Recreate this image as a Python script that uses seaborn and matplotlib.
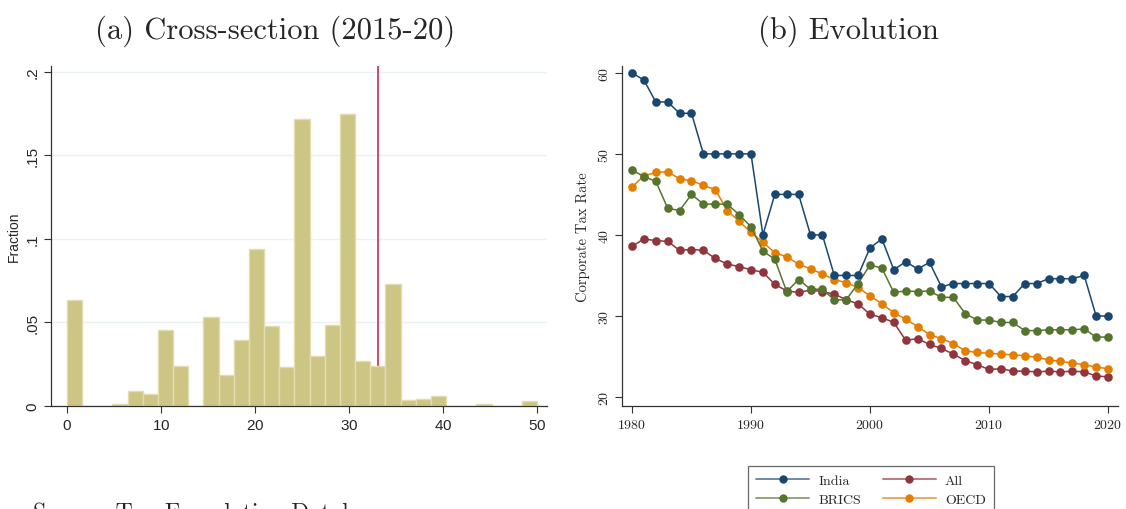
import numpy as np
import pandas as pd
import matplotlib
matplotlib.use('Agg')
import matplotlib.pyplot as plt
import seaborn as sns
from matplotlib.lines import Line2D

# ---- panel (a): histogram of statutory rates, 2015-20 (fraction per bin) ----
n_bins = 31          # bins of width ~1.61 over 0-50
bin_range = (0, 50)
fractions = [0.0637, 0, 0, 0.0014, 0.0092, 0.0072, 0.0452, 0.0242, 0,
             0.0530, 0.0188, 0.0392, 0.0939, 0.0476, 0.0234, 0.1720,
             0.0302, 0.0482, 0.1750, 0.0270, 0.0242, 0.0733, 0.0038,
             0.0044, 0.0060, 0, 0, 0.0012, 0, 0, 0.0032]
india_rate = 33.1

# ---- panel (b): average corporate tax rate over time ----
years = list(range(1980, 2021))
india = [60, 59.1, 56.4, 56.4, 55, 55, 50, 50, 50, 50, 50, 40, 45, 45, 45,
         40, 40, 35, 35, 35, 38.4, 39.5, 35.7, 36.7, 35.8, 36.6, 33.6, 34,
         34, 34, 34, 32.4, 32.4, 34, 34, 34.6, 34.6, 34.6, 35, 30, 30]
brics = [48.0, 47.2, 46.6, 43.3, 43.0, 45.0, 43.8, 43.8, 43.8, 42.5, 41.0,
         38.0, 37.0, 33.0, 34.5, 33.3, 33.3, 32.0, 32.0, 34.0, 36.3, 35.9,
         32.9, 33.1, 33.0, 33.1, 32.3, 32.3, 30.3, 29.5, 29.5, 29.2, 29.2,
         28.2, 28.2, 28.3, 28.3, 28.3, 28.4, 27.4, 27.4]
oecd = [45.9, 47.3, 47.7, 47.8, 46.9, 46.7, 46.1, 45.6, 43.0, 41.7, 40.3,
        39.1, 37.8, 37.3, 36.4, 35.8, 35.2, 34.5, 34.1, 33.5, 32.5, 31.5,
        30.4, 29.6, 28.7, 27.7, 27.2, 26.6, 25.7, 25.5, 25.4, 25.3, 25.2,
        25.1, 24.9, 24.6, 24.4, 24.2, 24.0, 23.7, 23.5]
all_c = [38.6, 39.5, 39.3, 39.2, 38.1, 38.2, 38.1, 37.1, 36.4, 36.1, 35.7,
         35.4, 33.9, 33.1, 32.9, 33.2, 33.0, 32.7, 32.0, 31.5, 30.2, 29.8,
         29.2, 27.0, 27.2, 26.5, 26.0, 25.3, 24.5, 24.0, 23.4, 23.5, 23.2,
         23.2, 23.1, 23.2, 23.1, 23.2, 23.1, 22.6, 22.5]

groups = ['All', 'OECD', 'BRICS', 'India']
palette = {'India': '#1a476f', 'All': '#90353b',
           'BRICS': '#55752f', 'OECD': '#e37e00'}

df = pd.DataFrame({'year': years * 4,
                   'rate': all_c + oecd + brics + india,
                   'group': np.repeat(groups, len(years))})

edges = np.linspace(bin_range[0], bin_range[1], n_bins + 1)
hist_df = pd.DataFrame({'mid': (edges[:-1] + edges[1:]) / 2,
                        'frac': fractions})

sns.set_style('white')
serif = ['cmr10', 'DejaVu Serif']
sans = ['Liberation Sans', 'DejaVu Sans']
plt.rcParams['axes.formatter.use_mathtext'] = True

fig = plt.figure(figsize=(11.26, 5.10), dpi=100)
ax1 = fig.add_axes([0.0453, 0.202, 0.4405, 0.667])
ax2 = fig.add_axes([0.5524, 0.202, 0.4405, 0.667])

# panel (a)
ax1.axvline(india_rate, color='#d6476f', lw=1.4, zorder=1)
sns.histplot(data=hist_df, x='mid', weights='frac', bins=n_bins,
             binrange=bin_range, ax=ax1,
             color='#cdc584', edgecolor='#e2dcae', linewidth=1.0,
             alpha=1, zorder=2)
ax1.set_xlim(-1.7, 51.06)
ax1.set_ylim(0, 0.2036)
ax1.set_xticks([0, 10, 20, 30, 40, 50])
ax1.set_yticks([0, 0.05, 0.1, 0.15, 0.2])
ax1.set_yticklabels(['0', '.05', '.1', '.15', '.2'], rotation=90, va='center')
ax1.yaxis.grid(True, color='#eaf2f3', lw=1.0, zorder=0)
ax1.set_axisbelow(True)
ax1.set_ylabel('Fraction', fontsize=10, family=sans, labelpad=3)
ax1.set_xlabel('')
ax1.tick_params(axis='both', direction='out', length=5, width=0.8,
                labelsize=11, color='#333333', left=True, bottom=True)
for lab in ax1.get_xticklabels() + ax1.get_yticklabels():
    lab.set_family(sans)
for s in ['top', 'right']:
    ax1.spines[s].set_visible(False)
for s in ['left', 'bottom']:
    ax1.spines[s].set_color('#333333')
    ax1.spines[s].set_linewidth(0.9)
ax1.set_title('(a) Cross-section (2015-20)', fontsize=22, family=serif,
              pad=20, x=0.452)

# panel (b)
sns.lineplot(data=df, x='year', y='rate', hue='group', hue_order=groups,
             palette=palette, marker='o', markersize=6.2, markeredgewidth=0,
             lw=1.1, ax=ax2, legend=False)
ax2.set_xlim(1979.16, 2020.84)
ax2.set_ylim(18.9, 60.86)
ax2.set_xticks([1980, 1990, 2000, 2010, 2020])
ax2.set_yticks([20, 30, 40, 50, 60])
ax2.set_yticklabels(['20', '30', '40', '50', '60'], rotation=90, va='center')
ax2.set_xlabel('')
ax2.set_ylabel('Corporate Tax Rate', fontsize=10.5, family=serif, labelpad=6)
ax2.tick_params(axis='both', direction='out', length=5, width=0.8,
                labelsize=10, color='#333333', left=True, bottom=True)
for lab in ax2.get_xticklabels() + ax2.get_yticklabels():
    lab.set_family(serif)
for s in ['top', 'right']:
    ax2.spines[s].set_visible(False)
for s in ['left', 'bottom']:
    ax2.spines[s].set_color('#333333')
    ax2.spines[s].set_linewidth(0.9)
ax2.set_title('(b) Evolution', fontsize=22, family=serif, pad=20, x=0.456)

light = {'India': '#6f8aa3', 'All': '#b97b7f',
         'BRICS': '#93a57e', 'OECD': '#eeaa5c'}
handles = []
for g in ['India', 'BRICS', 'All', 'OECD']:
    handles.append(Line2D([], [], color=light[g], lw=1.4, marker='o',
                          markersize=6, markerfacecolor=palette[g],
                          markeredgewidth=0, label=g))
leg = fig.legend(handles=handles, ncol=2, loc='upper center',
                 bbox_to_anchor=(871 / 1126, 1 - 467 / 510),
                 prop={'family': serif, 'size': 10}, frameon=True,
                 fancybox=False, edgecolor='#444444', handlelength=3.8,
                 handletextpad=0.65, columnspacing=1.6, borderpad=0.6,
                 labelspacing=0.45, borderaxespad=0)
leg.get_frame().set_linewidth(0.9)

fig.text(33 / 1126, 1 - 503 / 510, 'Source: Tax Foundation Database',
         fontsize=17, family=serif, va='top', ha='left')

fig.savefig('out.png', dpi=100)
